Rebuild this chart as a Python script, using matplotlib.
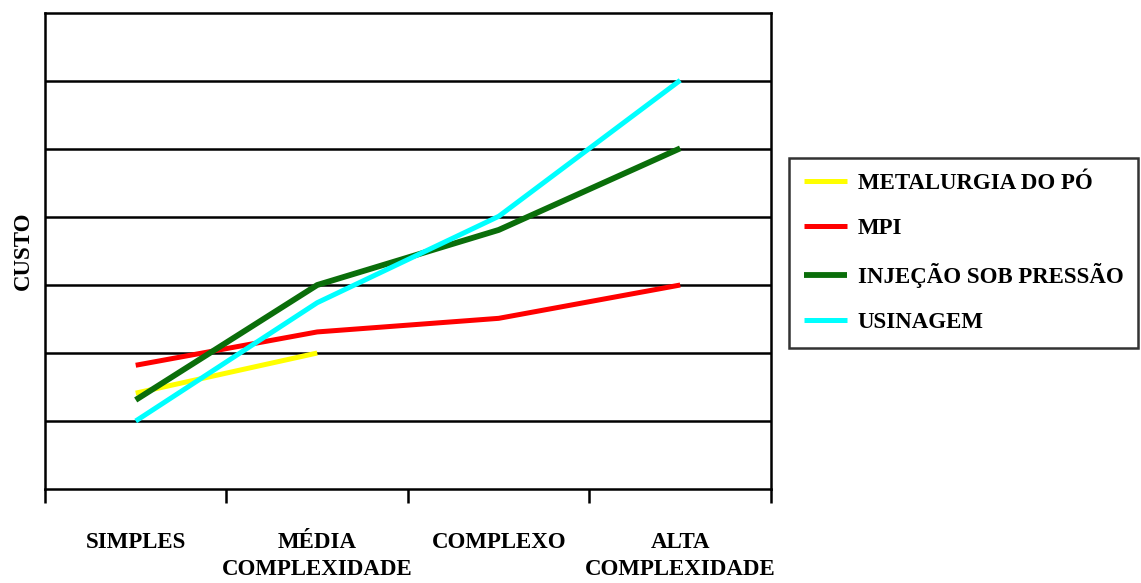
import numpy as np
import matplotlib.pyplot as plt

plt.rcParams["font.family"] = ["Liberation Serif", "DejaVu Serif"]
plt.rcParams["font.weight"] = "bold"

categories = ["SIMPLES", "MÉDIA\nCOMPLEXIDADE", "COMPLEXO", "ALTA\nCOMPLEXIDADE"]
metalurgia = [1.41, 2.0]
mpi = [1.82, 2.31, 2.51, 3.0]
injecao = [1.31, 3.0, 3.81, 5.01]
usinagem = [1.0, 2.74, 4.01, 6.01]

names = ["METALURGIA DO PÓ", "MPI", "INJEÇÃO SOB PRESSÃO", "USINAGEM"]
colors = ["#ffff00", "#ff0000", "#0a6e0a", "#00ffff"]
widths = [3.6, 3.6, 4.2, 3.6]

fig = plt.figure(figsize=(11.41, 5.83), dpi=100)
ax = fig.add_axes([0.0394, 0.1612, 0.6363, 0.8165])

x = np.arange(len(categories)) + 0.5
for vals, name, c, lw in zip([metalurgia, mpi, injecao, usinagem], names, colors, widths):
    ax.plot(x[:len(vals)], vals, color=c, linewidth=lw, label=name,
            solid_capstyle="butt", zorder=3)

for yv in range(1, 7):
    ax.axhline(yv, color="black", linewidth=1.8, zorder=1)

ax.set_xlim(0, 4)
ax.set_ylim(0, 7)
ax.set_yticks([])
ax.set_xticks([0, 1, 2, 3, 4])
ax.set_xticklabels([])
ax.set_xticks(x, minor=True)
ax.set_xticklabels(categories, minor=True, fontsize=16.5, fontweight="bold",
                   va="top", linespacing=1.35)
ax.tick_params(axis="x", which="major", length=10, width=1.8, direction="out")
ax.tick_params(axis="x", which="minor", length=0, pad=31)
for s in ax.spines.values():
    s.set_linewidth(1.8)

ax.set_ylabel("CUSTO", fontsize=16.5, fontweight="bold", labelpad=8)

leg = fig.legend(loc="upper left", bbox_to_anchor=(0.6915, 0.729),
                 borderaxespad=0, frameon=True, fancybox=False,
                 handlelength=1.9, handletextpad=0.45, labelspacing=1.05,
                 borderpad=0.65, prop={"weight": "bold", "size": 16.5})
leg.get_frame().set_edgecolor("black")
leg.get_frame().set_linewidth(1.8)

fig.savefig("out.png", dpi=100)
